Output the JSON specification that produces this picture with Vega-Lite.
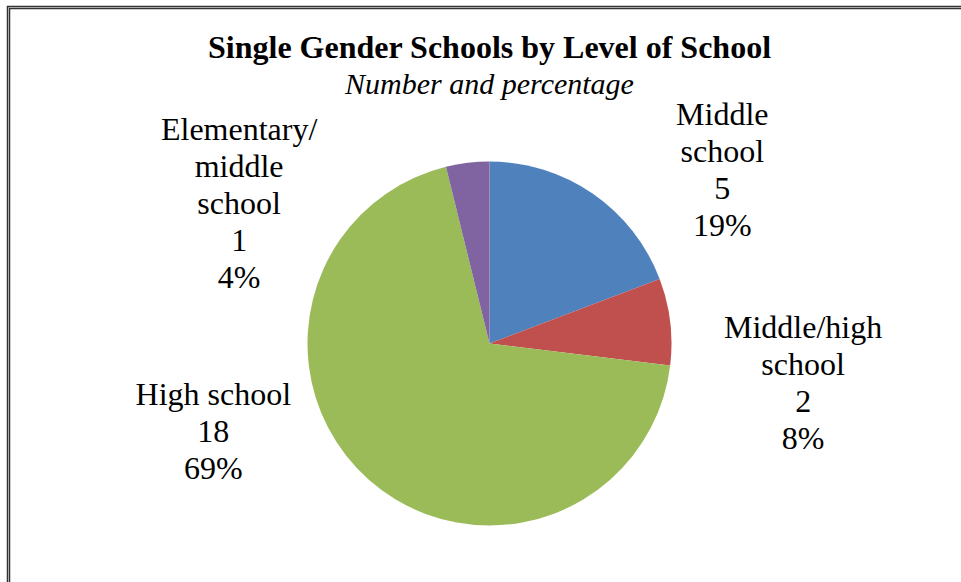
{
  "$schema": "https://vega.github.io/schema/vega-lite/v6.json",
  "width": 962,
  "height": 672,
  "autosize": {"type": "none"},
  "padding": {"left": 8.5, "top": 7.5, "right": -9.5, "bottom": -97.5},
  "background": "white",
  "title": {
    "text": "Single Gender Schools by Level of School",
    "subtitle": "Number and percentage",
    "anchor": "middle",
    "frame": "group",
    "offset": -99,
    "font": "Liberation Serif",
    "fontSize": 32,
    "fontWeight": "bold",
    "color": "black",
    "subtitleFont": "Liberation Serif",
    "subtitleFontSize": 30,
    "subtitleFontStyle": "italic",
    "subtitleColor": "black",
    "subtitlePadding": 5
  },
  "config": {
    "view": {"stroke": null},
    "text": {"font": "Liberation Serif", "fontSize": 32, "lineHeight": 37, "lineBreak": "\n", "align": "center", "baseline": "middle", "color": "black"}
  },
  "datasets": {
    "schools": [
      {"idx": 1, "category": "Middle school", "labelName": "Middle\nschool", "count": 5, "percent": 19},
      {"idx": 2, "category": "Middle/high school", "labelName": "Middle/high\nschool", "count": 2, "percent": 8},
      {"idx": 3, "category": "High school", "labelName": "High school", "count": 18, "percent": 69},
      {"idx": 4, "category": "Elementary/middle school", "labelName": "Elementary/\nmiddle\nschool", "count": 1, "percent": 4}
    ],
    "frame": [{"name": "frame"}]
  },
  "layer": [
    {
      "data": {"name": "frame"},
      "mark": {"type": "rect", "fill": null, "stroke": "#333333", "strokeWidth": 3.5},
      "encoding": {}
    },
    {
      "data": {"name": "frame"},
      "mark": {"type": "rect", "fill": null, "stroke": "#aaaaaa", "strokeWidth": 1},
      "encoding": {}
    },
    {
      "data": {"name": "schools"},
      "transform": [
        {"calculate": "datum.labelName + '\\n' + datum.count + '\\n' + datum.percent + '%'", "as": "label"}
      ],
      "encoding": {
        "theta": {"field": "count", "type": "quantitative", "stack": true},
        "order": {"field": "idx", "type": "quantitative"}
      },
      "layer": [
        {
          "mark": {"type": "arc", "outerRadius": 182},
          "encoding": {
            "color": {
              "field": "category",
              "type": "nominal",
              "scale": {
                "domain": ["Middle school", "Middle/high school", "High school", "Elementary/middle school"],
                "range": ["#4F81BD", "#C0504D", "#9BBB59", "#8064A2"]
              },
              "legend": null
            }
          }
        },
        {
          "mark": {"type": "text", "radius": 326, "thetaOffset": 0.191},
          "encoding": {
            "detail": {"field": "category"},
            "text": {"field": "label"},
            "opacity": {"condition": {"test": "datum.category === 'Middle school'", "value": 1}, "value": 0}
          }
        },
        {
          "mark": {"type": "text", "radius": 314, "thetaOffset": 0.072},
          "encoding": {
            "detail": {"field": "category"},
            "text": {"field": "label"},
            "opacity": {"condition": {"test": "datum.category === 'Middle/high school'", "value": 1}, "value": 0}
          }
        },
        {
          "mark": {"type": "text", "radius": 281, "thetaOffset": 0.661},
          "encoding": {
            "detail": {"field": "category"},
            "text": {"field": "label"},
            "opacity": {"condition": {"test": "datum.category === 'High school'", "value": 1}, "value": 0}
          }
        },
        {
          "mark": {"type": "text", "radius": 329, "thetaOffset": -0.744},
          "encoding": {
            "detail": {"field": "category"},
            "text": {"field": "label"},
            "opacity": {"condition": {"test": "datum.category === 'Elementary/middle school'", "value": 1}, "value": 0}
          }
        }
      ]
    }
  ]
}
